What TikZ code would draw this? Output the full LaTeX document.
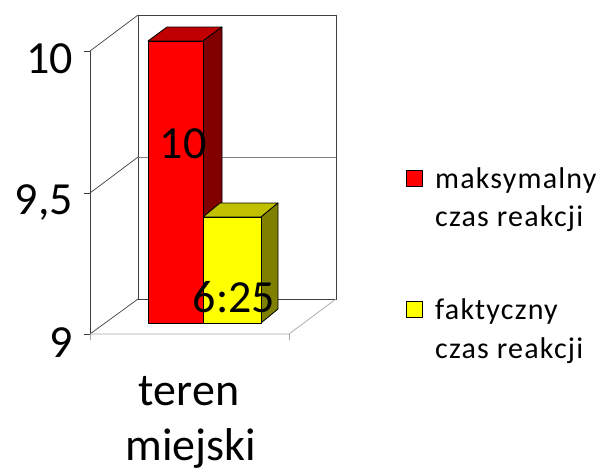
\documentclass[tikz,border=0pt]{standalone}
\usepackage{fontspec}
\setmainfont{Carlito}
\newfontfamily\legendfont[LetterSpace=4]{Carlito}
\definecolor{barred}{HTML}{FF0000}
\definecolor{barredtop}{HTML}{C00000}
\definecolor{barredside}{HTML}{800000}
\definecolor{baryel}{HTML}{FFFF00}
\definecolor{baryeltop}{HTML}{C0C000}
\definecolor{baryelside}{HTML}{808000}

\begin{document}
\begin{tikzpicture}[x=1pt, y=-1pt,
    wall/.style={draw=black!75, line width=0.7pt},
    floorline/.style={draw=black!35, line width=0.7pt},
    grid/.style={draw=black!50, line width=0.7pt},
    face/.style={draw=black, line width=0.8pt, line join=round},
    bignum/.style={font=\fontsize{46}{50}\selectfont, inner sep=0pt},
    legtext/.style={font=\legendfont\fontsize{30}{33}\selectfont, inner sep=0pt, anchor=base west},
    legbox/.style={draw=black, line width=0.9pt, minimum size=16pt, inner sep=0pt}]
    \useasboundingbox (0,0) rectangle (606,472);

    % Walls
    \draw[wall] (138,15) rectangle (336,299);
    \draw[grid] (138,157) -- (336,157);
    \draw[wall] (90,51) -- (138,15);
    \draw[wall] (90,193) -- (138,157);
    \draw[wall] (90,334) -- (138,299);
    \draw[wall] (90,51) -- (90,334);
    \foreach \yy in {51,193,334} \draw[wall] (84,\yy) -- (90,\yy);
    \draw[floorline] (90,334) -- (289,334) -- (336,299);
    \draw[floorline] (90,334) -- (90,340);
    \draw[floorline] (289,334) -- (289,340);

    % Bars
    \filldraw[face, fill=barredtop] (148,41) -- (203,41) -- (222,27) -- (167,27) -- cycle;
    \filldraw[face, fill=barredside] (203,41) -- (222,27) -- (222,309) -- (203,323) -- cycle;
    \filldraw[face, fill=barred] (148,41) rectangle (203,323);
    \filldraw[face, fill=baryeltop] (203,217) -- (261,217) -- (278,203) -- (220,203) -- cycle;
    \filldraw[face, fill=baryelside] (261,217) -- (278,203) -- (278,309) -- (261,323) -- cycle;
    \filldraw[face, fill=baryel] (203,217) rectangle (261,323);

    % Nodes
    \node[bignum, anchor=base east] (t10) at (73,73) {10};
    \node[bignum, anchor=base east] (t95) at (73,214) {9,5};
    \node[bignum, anchor=base east] (t9) at (73,357) {9};
    \node[bignum, anchor=base] (v10) at (183,158) {10};
    \node[bignum, anchor=base] (v625) at (234,312) {6:25};
    \node[bignum, anchor=base] (cat1) at (189,405) {teren};
    \node[bignum, anchor=base] (cat2) at (191,460) {miejski};

    % Legend
    \node[legbox, fill=barred] (keymax) at (414.5,178.5) {};
    \node[legtext] (txtmax) at (435,188) {maksymalny};
    \node[legtext] (txtmax2) at (435,226) {czas reakcji};
    \node[legbox, fill=baryel] (keyfak) at (414.5,309) {};
    \node[legtext] (txtfak) at (435,319) {faktyczny};
    \node[legtext] (txtfak2) at (435,358) {czas reakcji};
\end{tikzpicture}
\end{document}
